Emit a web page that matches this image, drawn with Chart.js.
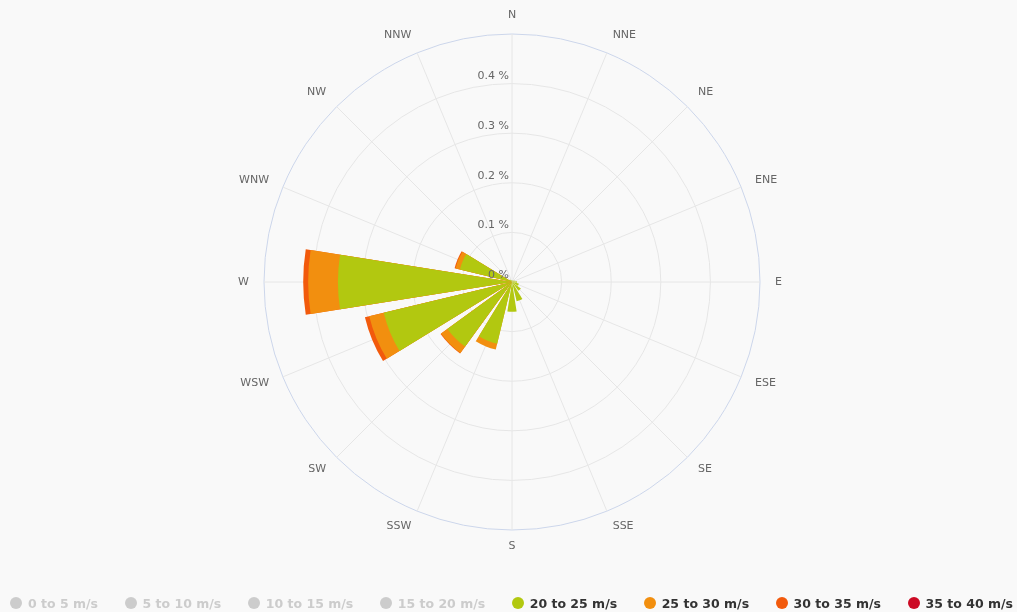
<!DOCTYPE html>
<html>
<head>
<meta charset="utf-8">
<script src="https://cdn.jsdelivr.net/npm/chart.js@4.4.1/dist/chart.umd.min.js"></script>
<style>
html,body{margin:0;padding:0;background:#f9f9f9;}
#wrap{position:relative;width:1017px;height:612px;overflow:hidden;}
#legend{position:absolute;left:0;top:594px;width:1011px;padding-left:6px;height:18px;display:flex;justify-content:center;align-items:center;font:bold 12.5px "DejaVu Sans",sans-serif;}
.item{display:flex;align-items:center;margin:0 13.25px;white-space:nowrap;}
.dot{width:12px;height:12px;border-radius:50%;margin-right:6px;}
</style>
</head>
<body>
<div id="wrap"><canvas id="c"></canvas><div id="legend"></div></div>
<script>
// ---- data ----
const directions = ['N','NNE','NE','ENE','E','ESE','SE','SSE','S','SSW','SW','WSW','W','WNW','NW','NNW'];
const seriesNames = ['0 to 5 m/s','5 to 10 m/s','10 to 15 m/s','15 to 20 m/s','20 to 25 m/s','25 to 30 m/s','30 to 35 m/s','35 to 40 m/s'];
const seriesColors = ['#7cb5ec','#434348','#90ed7d','#f7a35c','#b2c810','#f28f0f','#f25a0c','#cc0a24'];
const seriesHidden = [true,true,true,true,false,false,false,false];
// hidden series (not shown in the picture)
const speed0to5 = [];
const speed5to10 = [];
const speed10to15 = [];
const speed15to20 = [];
// visible series, percent frequency per direction
const speed20to25 = [0.004,0.003,0.004,0.006,0.010,0.014,0.022,0.040,0.060,0.128,0.161,0.266,0.351,0.108,0.006,0.004];
const speed25to30 = [0,0,0,0,0,0,0,0,0,0.012,0.016,0.030,0.060,0.009,0,0];
const speed30to35 = [0,0,0,0,0,0,0,0,0,0,0.001,0.009,0.010,0.002,0,0];
const speed35to40 = [0,0,0,0,0,0,0,0,0,0,0,0,0,0,0,0];
const tickValues = [0,0.1,0.2,0.3,0.4];
const tickLabels = ['0 %','0.1 %','0.2 %','0.3 %','0.4 %'];
const axisMax = 0.5;

// ---- build ----
const allSeries = [speed0to5,speed5to10,speed10to15,speed15to20,speed20to25,speed25to30,speed30to35,speed35to40];
const BAR = 18, GAP = 4.5;
// ring layout: N split in two halves so bars are centred on the direction lines
function ring(vals){
  const out = [vals[0] ?? null, 0];
  for (let k = 1; k < 16; k++) out.push(vals[k] ?? null, 0);
  out.push(vals[0] ?? null);
  return out;
}
const angles = [BAR/2, GAP];
for (let k = 1; k < 16; k++) angles.push(BAR, GAP);
angles.push(BAR/2);

const running = new Array(16).fill(0);
const datasets = allSeries.map((s, i) => {
  let vals;
  if (seriesHidden[i]) {
    vals = s;
  } else {
    vals = directions.map((d, k) => {
      running[k] += s[k];
      return s[k] > 0 ? running[k] : 0;
    });
  }
  return {
    label: seriesNames[i],
    data: ring(vals),
    backgroundColor: seriesColors[i],
    borderWidth: 0,
    hidden: seriesHidden[i],
    angle: c => angles[c.dataIndex]
  };
});

const LABEL_FONT = '11px "DejaVu Sans", sans-serif';
// vertical anchoring of the direction labels (label box height per position)
function labelFont(c) {
  const a = c.index * 22.5;
  let lh = '2px';
  if (a < 60 || a > 300) lh = '8px';
  else if (a === 112.5 || a === 247.5) lh = '0px';
  return { family: 'DejaVu Sans', size: 11, lineHeight: lh };
}

const tickTextPlugin = {
  id: 'tickText',
  afterDatasetsDraw(chart) {
    const s = chart.scales.r, ctx = chart.ctx;
    ctx.save();
    ctx.font = LABEL_FONT;
    ctx.fillStyle = '#666666';
    ctx.textAlign = 'right';
    ctx.textBaseline = 'middle';
    tickValues.forEach((v, i) => {
      const d = s.getDistanceFromCenterForValue(v);
      ctx.fillText(tickLabels[i], s.xCenter - 3, s.yCenter - d - 7);
    });
    ctx.restore();
  }
};

new Chart(document.getElementById('c'), {
  type: 'polarArea',
  data: { labels: directions, datasets },
  options: {
    responsive: true,
    maintainAspectRatio: false,
    animation: false,
    layout: { padding: { top: 8, bottom: 62, left: 7, right: 0 } },
    plugins: { legend: { display: false }, tooltip: { enabled: false } },
    scales: {
      r: {
        min: 0, max: axisMax,
        startAngle: 0,
        ticks: { display: false, stepSize: 0.1 },
        grid: { circular: true, lineWidth: 1, color: c => (c.tick && c.tick.value >= axisMax) ? '#ccd6eb' : '#e6e6e6' },
        angleLines: { display: true, color: '#e6e6e6', lineWidth: 1 },
        pointLabels: { display: true, centerPointLabels: false, padding: 15, color: '#666666', font: labelFont }
      }
    }
  },
  plugins: [tickTextPlugin]
});

// legend
const lg = document.getElementById('legend');
seriesNames.forEach((n, i) => {
  const it = document.createElement('div'); it.className = 'item';
  const dot = document.createElement('span'); dot.className = 'dot';
  dot.style.background = seriesHidden[i] ? '#cccccc' : seriesColors[i];
  const t = document.createElement('span'); t.textContent = n;
  t.style.color = seriesHidden[i] ? '#cccccc' : '#333333';
  it.appendChild(dot); it.appendChild(t); lg.appendChild(it);
});
</script>
</body>
</html>
